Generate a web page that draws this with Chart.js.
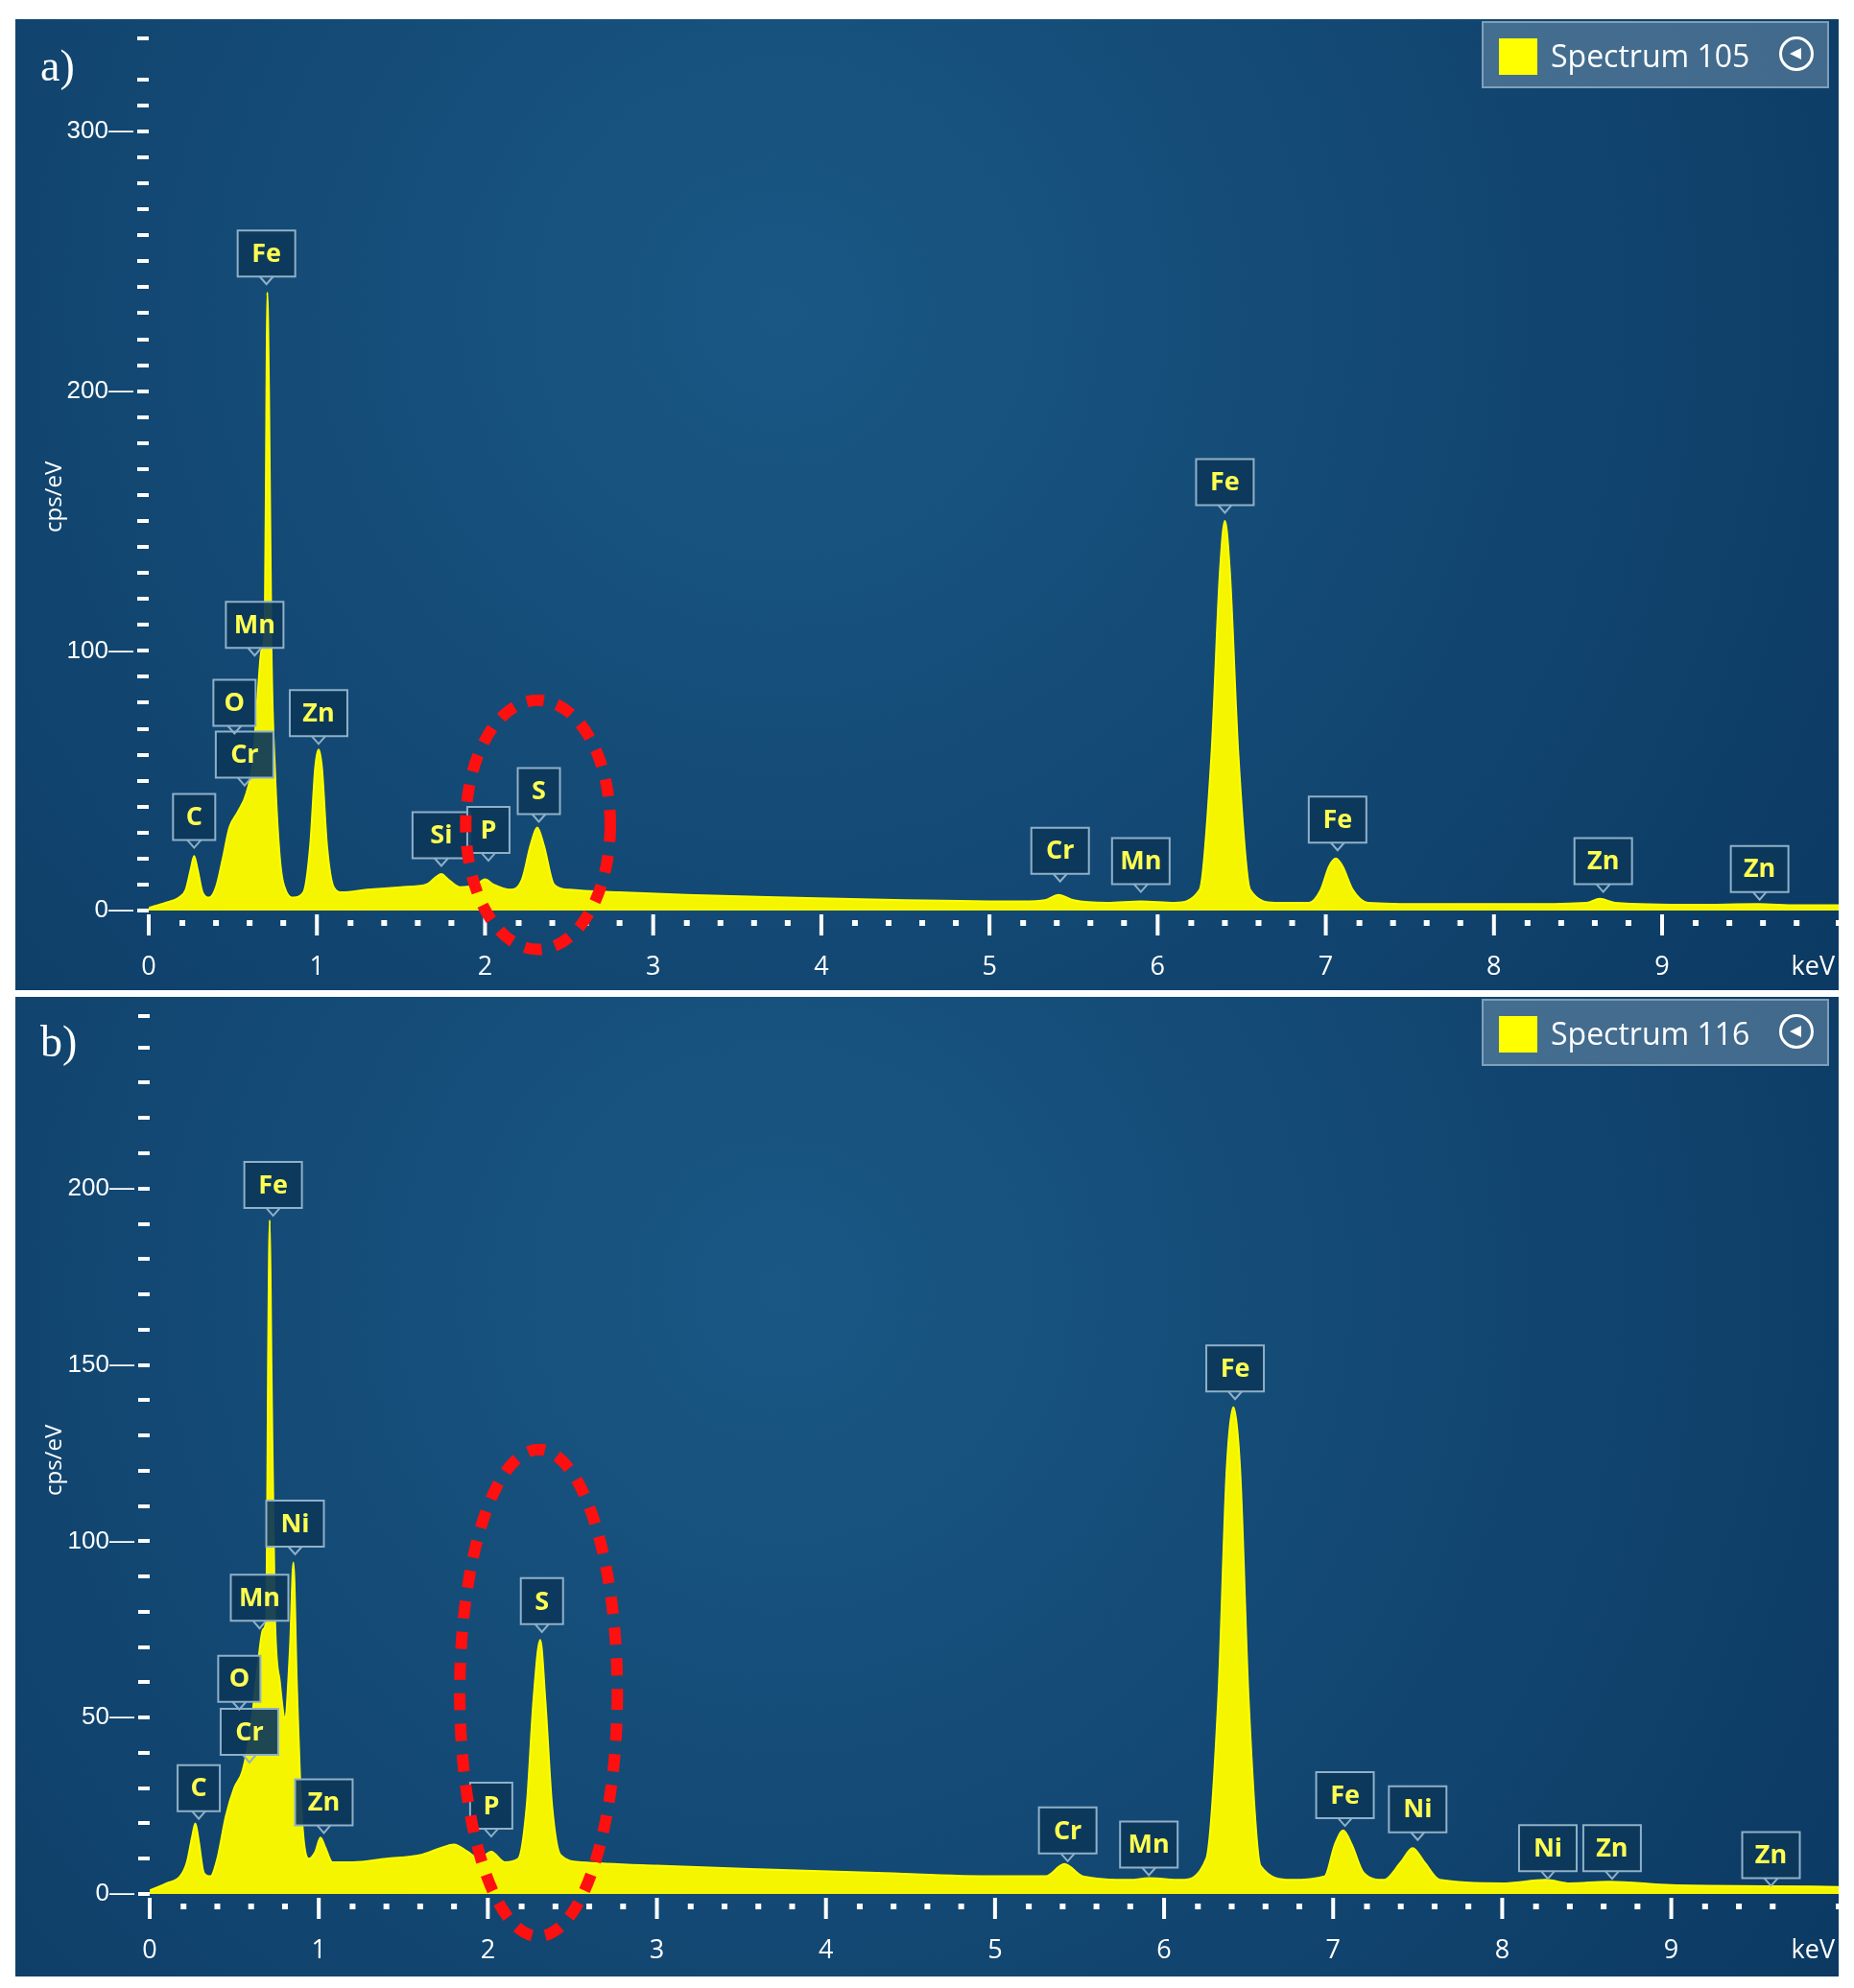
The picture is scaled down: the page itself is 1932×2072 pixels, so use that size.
<!DOCTYPE html>
<html><head><meta charset="utf-8">
<script src="https://cdn.jsdelivr.net/npm/chart.js@4/dist/chart.umd.min.js"></script>
<style>
body{margin:0;background:#fff;width:1932px;height:2072px;position:relative;font-family:"Open Sans",sans-serif}
.panel{position:absolute;left:16px;width:1900px}
canvas{position:absolute;left:0;top:0}
.tag{position:absolute;color:#fff;font-family:"Liberation Serif",serif;font-size:46px}
.yt{position:absolute;color:#fff;font-size:24px;transform:rotate(-90deg);transform-origin:left top}
.leg{position:absolute;right:10px;top:2px;width:362px;height:70px;background:rgba(130,160,185,0.45);border:2px solid rgba(170,195,215,0.6);box-sizing:border-box}
.leg .sq{position:absolute;left:16px;top:16px;width:40px;height:38px;background:#ffff00}
.leg .t{position:absolute;left:70px;top:12px;color:#fff;font-size:32px}
.leg .b{position:absolute;right:14px;top:14px;width:36px;height:36px;border:3px solid #fff;border-radius:50%;box-sizing:border-box}
.leg .b:after{content:"";position:absolute;left:8px;top:9px;border-right:12px solid #fff;border-top:6px solid transparent;border-bottom:6px solid transparent}
</style></head><body>
<div class="panel" id="pa" style="top:20px;height:1012px"><canvas id="ca" width="1900" height="1012"></canvas>
<div class="tag" style="left:26px;top:22px">a)</div><div class="yt" style="left:22px;top:535px">cps/eV</div>
<div class="leg"><div class="sq"></div><div class="t">Spectrum 105</div><div class="b"></div></div></div>
<div class="panel" id="pb" style="top:1039px;height:1021px"><canvas id="cb" width="1900" height="1021"></canvas>
<div class="tag" style="left:26px;top:20px">b)</div><div class="yt" style="left:22px;top:520px">cps/eV</div>
<div class="leg"><div class="sq"></div><div class="t">Spectrum 116</div><div class="b"></div></div></div>
<script>
const energyA=[0,0.1,0.18,0.22,0.25,0.27,0.29,0.32,0.36,0.4,0.44,0.48,0.53,0.58,0.62,0.65,0.67,0.69,0.70,0.705,0.715,0.73,0.75,0.78,0.82,0.86,0.92,0.96,0.99,1.01,1.03,1.06,1.10,1.15,1.3,1.5,1.65,1.71,1.74,1.78,1.85,1.95,2.0,2.05,2.15,2.22,2.27,2.31,2.35,2.41,2.5,2.8,3.2,3.8,4.5,5.2,5.33,5.41,5.5,5.7,5.9,6.1,6.25,6.32,6.37,6.40,6.43,6.48,6.55,6.7,6.9,6.97,7.02,7.06,7.1,7.16,7.25,7.6,8.2,8.55,8.63,8.72,9.2,9.57,9.8,10.05];
const countsA=[1,3,5,8,16,21,16,7,5,9,20,32,38,45,58,85,100,108,200,238,200,100,55,20,7,5,7,25,55,62,55,25,9,7,8,9,10,13,14,12,9,10,12,10,8,12,25,32,25,10,8,7,6,5,4,3.5,4,6,4,3,3.5,3,8,60,130,150,130,60,8,3,3,8,17,20,17,8,3,2.5,2.5,3,4.5,3,2.2,2.5,2,2];
const energyB=[0,0.1,0.18,0.22,0.25,0.27,0.29,0.32,0.36,0.4,0.45,0.5,0.55,0.6,0.64,0.67,0.69,0.70,0.71,0.72,0.74,0.77,0.80,0.83,0.85,0.87,0.9,0.94,0.98,1.01,1.04,1.08,1.2,1.4,1.6,1.72,1.8,1.88,1.95,2.02,2.1,2.18,2.23,2.27,2.31,2.34,2.38,2.43,2.55,3.0,3.6,4.3,5.0,5.3,5.41,5.52,5.8,5.91,6.1,6.25,6.32,6.37,6.41,6.45,6.5,6.57,6.75,6.95,7.01,7.06,7.11,7.18,7.3,7.4,7.47,7.54,7.63,8.0,8.26,8.4,8.63,9.0,9.6,10];
const countsB=[1,3,5,9,16,20,15,6,5,10,22,30,35,48,65,75,78,150,191,150,80,60,50,70,94,60,22,10,12,16,13,9,9,10,11,13,14,12,10,12,9,10,25,55,72,55,25,11,9,8,7,6,5,5,8.5,5,4,4.5,4,10,55,120,138,120,55,8,4,5,14,18,14,6,4,9,13,9,4,3,4,3,3.5,2.5,2.2,2];
const labelsA=[["Cr",0.57,60],["O",0.51,80],["Mn",0.63,110],["Fe",0.70,253],["Zn",1.01,76],["C",0.27,36],["Si",1.74,29],["P",2.02,31],["S",2.32,46],["Cr",5.42,23],["Mn",5.9,19],["Fe",6.40,165],["Fe",7.07,35],["Zn",8.65,19],["Zn",9.58,16]];
const labelsB=[["Cr",0.59,46],["O",0.53,61],["Mn",0.65,84],["Ni",0.86,105],["Fe",0.73,201],["C",0.29,30],["Zn",1.03,26],["P",2.02,25],["S",2.32,83],["Cr",5.43,18],["Mn",5.91,14],["Fe",6.42,149],["Fe",7.07,28],["Ni",7.50,24],["Ni",8.27,13],["Zn",8.65,13],["Zn",9.59,11]];
const ellipseA=[2.315,33,0.43,48];
const ellipseB=[2.30,57,0.466,69];

function deco(labels,ell){return {id:'deco',
 beforeDraw(c){const g=c.ctx,w=c.width,h=c.height;
  const gr=g.createRadialGradient(w*0.42,h*0.3,10,w*0.42,h*0.3,w*0.75);
  gr.addColorStop(0,'#1a5784');gr.addColorStop(1,'#0a3760');g.fillStyle=gr;g.fillRect(0,0,w,h);},
 afterDraw(c){const g=c.ctx,x=c.scales.x,y=c.scales.y,ca=c.chartArea;
  g.save();g.fillStyle='#fff';g.strokeStyle='#fff';
  g.font='27px "Open Sans"';g.textAlign='center';g.textBaseline='top';
  x.ticks.forEach(t=>{const v=t.value,px=x.getPixelForValue(v);
   if(Math.abs(v-Math.round(v))<1e-6){g.fillRect(px-2,ca.bottom+4,4,22);if(Math.round(v)<10)g.fillText(String(Math.round(v)),px,ca.bottom+46);}
   else{g.fillRect(px-3,ca.bottom+10,6,6);}});
  g.textAlign='right';g.fillText('keV',ca.right-4,ca.bottom+46);
  labels.forEach(l=>{const px=x.getPixelForValue(l[1]),py=y.getPixelForValue(l[2]);
   const bw=l[0].length>1?60:44,bh=48;
   g.fillStyle='rgba(12,55,90,0.92)';g.strokeStyle='#8fb0c8';g.lineWidth=2;
   g.beginPath();g.rect(px-bw/2,py-bh/2,bw,bh);g.fill();g.stroke();
   g.beginPath();g.moveTo(px-7,py+bh/2);g.lineTo(px,py+bh/2+8);g.lineTo(px+7,py+bh/2);g.stroke();
   g.fillStyle='#ffff50';g.font='bold 27px "Open Sans"';g.textAlign='center';g.textBaseline='middle';g.fillText(l[0],px,py+1);});
  const cx=x.getPixelForValue(ell[0]),cy=y.getPixelForValue(ell[1]);
  const rx=x.getPixelForValue(ell[0]+ell[2])-cx,ry=cy-y.getPixelForValue(ell[1]+ell[3]);
  g.strokeStyle='#ff1010';g.lineWidth=12;g.setLineDash([18,14]);g.beginPath();g.ellipse(cx,cy,rx,ry,0,0,Math.PI*2);g.stroke();
  g.restore();}};}

function make(id,ex,cy,labels,ell,xmax,ymax,yw,xh,ystep){
 new Chart(document.getElementById(id),{type:'line',
  data:{datasets:[{data:ex.map((e,i)=>({x:e,y:cy[i]})),borderColor:'#ffff00',backgroundColor:'#f5f500',borderWidth:2,fill:'origin',pointRadius:0,tension:0.4,cubicInterpolationMode:'monotone'}]},
  options:{responsive:false,devicePixelRatio:1,animation:false,layout:{padding:0},
   plugins:{legend:{display:false},tooltip:{enabled:false}},
   scales:{
    x:{type:'linear',min:0,max:xmax,afterFit(s){s.height=xh;s.paddingLeft=0;s.paddingRight=0;},border:{display:false},grid:{display:false},
     ticks:{stepSize:0.2,autoSkip:false,maxRotation:0,display:false}},
    y:{min:0,max:ymax,afterFit(s){s.width=yw;},border:{display:false},
     grid:{drawOnChartArea:false,color:'#fff',lineWidth:4,tickLength:12,offset:false},
     ticks:{stepSize:10,autoSkip:false,color:'#fff',font:{size:26},padding:4,
      callback:v=>(v%ystep===0)?String(v)+'—':''}}}},
  plugins:[deco(labels,ell)]});}
make('ca',energyA,countsA,labelsA,ellipseA,10.05,336,139,83,100);
make('cb',energyB,countsB,labelsB,ellipseB,9.99,249,140,86,50);
</script></body></html>
